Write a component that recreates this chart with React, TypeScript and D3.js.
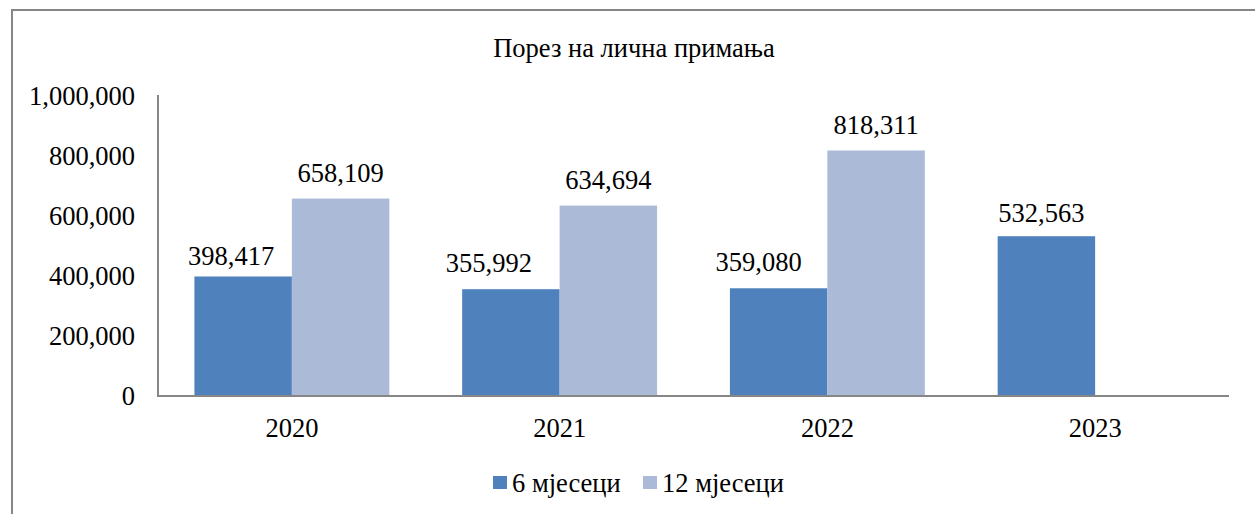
import React, { useEffect, useRef } from 'react';
import * as d3 from 'd3';

const years = ['2020', '2021', '2022', '2023'];
const seriesNames = ['6 мјесеци', '12 мјесеци'];
const sixMonths = [398417, 355992, 359080, 532563];
const twelveMonths = [658109, 634694, 818311, null];
const yTicks = [0, 200000, 400000, 600000, 800000, 1000000];

const title = 'Порез на лична примања';
const colors = ['#4F81BD', '#AABAD7'];

// hand-placed label nudges for the first series (as in the source chart)
const sixLabelNudge = [[-12, 6], [-22, 0], [-20, 0], [-5, 3]];

const W = 1255;
const H = 514;
const margin = { left: 158, right: 1229, top: 96, bottom: 396 };
const font = '"Liberation Serif", "Times New Roman", serif';
const fs = '26.5px';

const App = () => {
  const ref = useRef<SVGSVGElement | null>(null);

  useEffect(() => {
    document.body.style.margin = '0';
    const svg = d3.select(ref.current);
    svg.selectAll('*').remove();

    const x0 = d3.scaleBand().domain(years).range([margin.left, margin.right])
      .paddingInner(0.272).paddingOuter(0.136);
    const x1 = d3.scaleBand().domain(seriesNames).range([0, x0.bandwidth()]);
    const y = d3.scaleLinear().domain([0, 1000000]).range([margin.bottom, margin.top]);
    const fmt = d3.format(',');

    // outer frame
    svg.append('rect')
      .attr('x', 12).attr('y', 10)
      .attr('width', W).attr('height', H)
      .attr('fill', 'white').attr('stroke', '#868686').attr('stroke-width', 2);

    svg.append('text')
      .attr('x', 634).attr('y', 57)
      .attr('text-anchor', 'middle')
      .style('font-family', font).style('font-size', fs)
      .text(title);

    const rows = years.map((yr, i) => ({ yr, vals: [sixMonths[i], twelveMonths[i]] }));

    const g = svg.append('g');
    rows.forEach((r, i) => {
      r.vals.forEach((v, s) => {
        if (v == null) return;
        const bx = (x0(r.yr) as number) + (x1(seriesNames[s]) as number);
        const bw = x1.bandwidth();
        g.append('rect')
          .attr('x', bx).attr('y', y(v))
          .attr('width', bw).attr('height', y(0) - y(v))
          .attr('fill', colors[s]);
        const nudge = s === 0 ? sixLabelNudge[i] : [0, 0];
        g.append('text')
          .attr('x', bx + bw / 2 + nudge[0])
          .attr('y', y(v) - 17 + nudge[1])
          .attr('text-anchor', 'middle')
          .style('font-family', font).style('font-size', fs)
          .text(fmt(v));
      });
    });

    // axes
    svg.append('line')
      .attr('x1', margin.left).attr('x2', margin.left)
      .attr('y1', margin.top - 1).attr('y2', margin.bottom)
      .attr('stroke', '#868686').attr('stroke-width', 2);
    svg.append('line')
      .attr('x1', margin.left - 1).attr('x2', margin.right)
      .attr('y1', margin.bottom).attr('y2', margin.bottom)
      .attr('stroke', '#868686').attr('stroke-width', 2);

    svg.append('g').selectAll('text')
      .data(yTicks)
      .join('text')
      .attr('x', 135)
      .attr('y', d => y(d))
      .attr('dy', '0.35em')
      .attr('text-anchor', 'end')
      .style('font-family', font).style('font-size', fs)
      .text(d => fmt(d));

    svg.append('g').selectAll('text')
      .data(years)
      .join('text')
      .attr('x', d => (x0(d) as number) + x0.bandwidth() / 2)
      .attr('y', 437)
      .attr('text-anchor', 'middle')
      .style('font-family', font).style('font-size', fs)
      .text(d => d);

    // legend
    const legendX = [493, 643];
    const leg = svg.append('g');
    seriesNames.forEach((name, s) => {
      leg.append('rect')
        .attr('x', legendX[s]).attr('y', 476)
        .attr('width', 14).attr('height', 13)
        .attr('fill', colors[s]);
      leg.append('text')
        .attr('x', legendX[s] + 19).attr('y', 492)
        .style('font-family', font).style('font-size', fs)
        .text(name);
    });
  }, []);

  return <svg ref={ref} width={W} height={H} style={{ display: 'block' }} />;
};

export default App;
